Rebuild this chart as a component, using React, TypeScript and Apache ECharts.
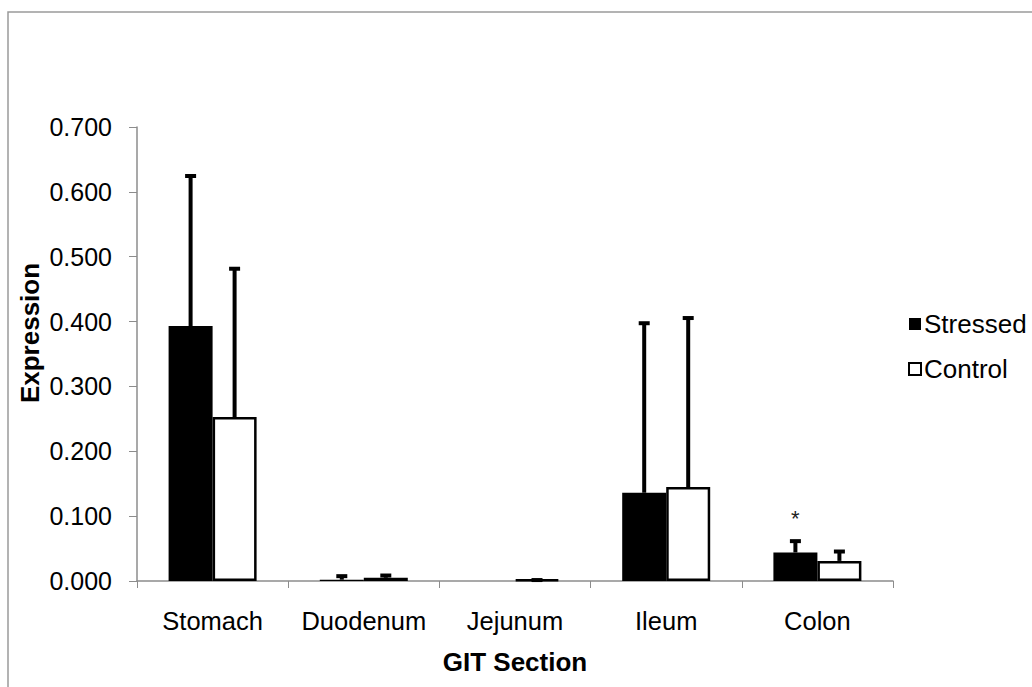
import React, { useEffect, useRef } from "react";
import * as echarts from "echarts";

const categories = ["Stomach", "Duodenum", "Jejunum", "Ileum", "Colon"];
const stressed = [0.393, 0.002, 0, 0.136, 0.044];
const stressedErr = [0.233, 0.007, 0, 0.263, 0.019];
const control = [0.253, 0.005, 0.002, 0.145, 0.031];
const controlErr = [0.23, 0.005, 0.001, 0.262, 0.016];
const stressedMarks = ["", "", "", "", "*"];
const yTicks = { min: 0, max: 0.7, interval: 0.1 };

const FONT = "'Liberation Sans', Arial, sans-serif";

function errSeries(name: string, means: number[], errs: number[], dx: number, marks: string[]) {
  return {
    name,
    type: "custom",
    z: 5,
    data: means.map((m, i) => [i, m, errs[i]]),
    renderItem: (params: any, api: any) => {
      const idx = api.value(0);
      const mean = api.value(1);
      const err = api.value(2);
      const mark = marks[idx] || "";
      const base = api.coord([idx, mean]);
      const top = api.coord([idx, mean + err]);
      const x = base[0] + dx;
      const children: any[] = [];
      if (err > 0) {
        children.push({
          type: "line",
          shape: { x1: x, y1: base[1], x2: x, y2: top[1] },
          style: { stroke: "#000", lineWidth: 4 },
        });
        children.push({
          type: "rect",
          shape: { x: x - 5.5, y: top[1] - 1, width: 11, height: 4 },
          style: { fill: "#000" },
        });
      }
      if (mark) {
        children.push({
          type: "text",
          style: {
            text: mark,
            x: x,
            y: top[1] - 22,
            textAlign: "center",
            textVerticalAlign: "middle",
            fontSize: 22,
            fontFamily: FONT,
            fill: "#222",
          },
        });
      }
      return { type: "group", children };
    },
  };
}

export default function App() {
  const ref = useRef<HTMLDivElement>(null);
  useEffect(() => {
    if (!ref.current) return;
    const chart = echarts.init(ref.current, undefined, { renderer: "svg" });
    chart.setOption({
      animation: false,
      backgroundColor: "#fff",
      graphic: [
        {
          type: "rect",
          shape: { x: 8, y: 12, width: 1200, height: 800 },
          style: { fill: "none", stroke: "#9a9a9a", lineWidth: 1.5 },
          silent: true,
          z: -10,
        },
        {
          type: "text",
          x: 30,
          y: 333,
          rotation: Math.PI / 2,
          style: {
            text: "Expression",
            fontSize: 26,
            fontWeight: "bold",
            fontFamily: FONT,
            fill: "#000",
            textAlign: "center",
            textVerticalAlign: "middle",
          },
        },
      ],
      grid: { left: 137, right: 139, top: 127, bottom: 106, containLabel: false },
      legend: {
        data: ["Stressed", "Control"],
        orient: "vertical",
        left: 903,
        top: 306,
        itemWidth: 12,
        itemHeight: 12,
        itemGap: 19,
        icon: "rect",
        textStyle: { fontSize: 26, fontFamily: FONT, color: "#000", padding: [0, 0, 0, -2] },
      },
      xAxis: {
        type: "category",
        data: categories,
        axisLine: { lineStyle: { color: "#8c8c8c", width: 1.5 } },
        axisTick: { show: true, length: 7, lineStyle: { color: "#8c8c8c" }, alignWithLabel: false },
        axisLabel: { fontSize: 25.5, fontFamily: FONT, color: "#000", margin: 27, interval: 0, hideOverlap: false },
        name: "GIT Section",
        nameLocation: "middle",
        nameGap: 68,
        nameTextStyle: { fontSize: 26, fontWeight: "bold", fontFamily: FONT, color: "#000" },
      },
      yAxis: {
        type: "value",
        min: yTicks.min,
        max: yTicks.max,
        interval: yTicks.interval,
        splitLine: { show: false },
        axisLine: { show: true, lineStyle: { color: "#8c8c8c", width: 1.5 } },
        axisTick: { show: true, length: 8, lineStyle: { color: "#8c8c8c" } },
        axisLabel: {
          fontSize: 25,
          fontFamily: FONT,
          color: "#000",
          margin: 25,
          formatter: (v: number) => v.toFixed(3),
        },
      },
      series: [
        {
          name: "Stressed",
          type: "bar",
          data: stressed,
          barWidth: 44,
          barGap: "0%",
          itemStyle: { color: "#000", borderWidth: 0 },
        },
        {
          name: "Control",
          type: "bar",
          data: control,
          barWidth: 44,
          barGap: "0%",
          itemStyle: { color: "#fff", borderColor: "#000", borderWidth: 2.5 },
        },
        errSeries("StressedErr", stressed, stressedErr, -22, stressedMarks),
        errSeries("ControlErr", control, controlErr, 22, ["", "", "", "", ""]),
      ],
    });
    return () => chart.dispose();
  }, []);
  return (
    <div
      ref={ref}
      style={{ position: "fixed", left: 0, top: 0, width: 1032, height: 687 }}
    />
  );
}
